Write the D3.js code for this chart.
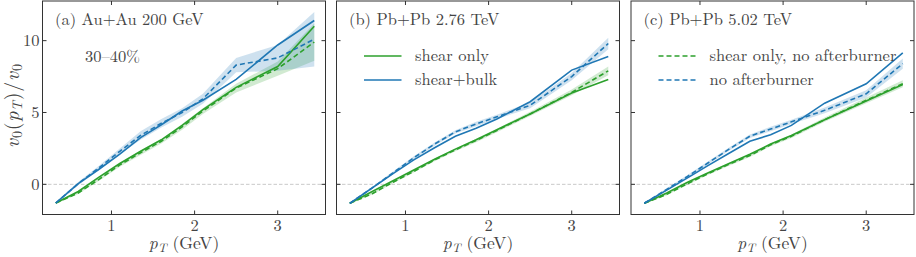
<!DOCTYPE html>
<html>
<head>
<meta charset="utf-8">
<script src="https://cdn.jsdelivr.net/npm/d3@7"></script>
<style>
  body { margin: 0; background: #fff; }
  svg { display: block; }
</style>
</head>
<body>
<div id="chart"></div>
<script>
'use strict';

// transverse momentum grid (GeV)
var pT = [0.33, 0.6, 0.85, 1.1, 1.35, 1.6, 1.85, 2.1, 2.5, 3.0, 3.44];

var xTicks = [1, 2, 3];
var yTicks = [0, 5, 10];

var panelTitles = ['(a) Au+Au 200 GeV', '(b) Pb+Pb 2.76 TeV', '(c) Pb+Pb 5.02 TeV'];
var centrality = '30\u201340%';

// (a) Au+Au 200 GeV
var auShear        = [-1.3, -0.5, 0.5, 1.45, 2.3, 3.1, 4.1, 5.2, 6.75, 8.2, 11.0];
var auShearNoAb    = [-1.3, -0.6, 0.35, 1.35, 2.2, 3.0, 4.0, 5.1, 6.7, 8.05, 9.9];
var auShearNoAbErr = [0.05, 0.08, 0.1, 0.12, 0.15, 0.15, 0.2, 0.2, 0.3, 0.5, 1.3];
var auBulk         = [-1.3, 0.05, 1.05, 2.1, 3.25, 4.15, 5.1, 5.85, 7.3, 9.7, 11.4];
var auBulkNoAb     = [-1.3, 0.05, 1.15, 2.3, 3.4, 4.25, 5.0, 5.95, 8.3, 8.8, 10.1];
var auBulkNoAbErr  = [0.08, 0.12, 0.15, 0.2, 0.3, 0.3, 0.3, 0.35, 0.5, 0.9, 1.9];

// (b) Pb+Pb 2.76 TeV
var pb276Shear        = [-1.32, -0.5, 0.25, 1.0, 1.75, 2.45, 3.1, 3.8, 4.9, 6.35, 7.3];
var pb276ShearNoAb    = [-1.32, -0.65, 0.15, 0.9, 1.7, 2.4, 3.05, 3.75, 4.9, 6.4, 7.9];
var pb276ShearNoAbErr = [0.05, 0.06, 0.08, 0.08, 0.1, 0.1, 0.12, 0.12, 0.15, 0.2, 0.3];
var pb276Bulk         = [-1.32, -0.25, 0.75, 1.7, 2.55, 3.35, 3.9, 4.55, 5.75, 7.95, 8.9];
var pb276BulkNoAb     = [-1.32, -0.25, 0.8, 1.85, 2.8, 3.65, 4.2, 4.7, 5.5, 7.5, 9.8];
var pb276BulkNoAbErr  = [0.05, 0.08, 0.1, 0.1, 0.12, 0.12, 0.15, 0.15, 0.2, 0.25, 0.4];

// (c) Pb+Pb 5.02 TeV
var pb502Shear        = [-1.32, -0.6, 0.15, 0.8, 1.45, 2.1, 2.8, 3.4, 4.5, 5.8, 6.95];
var pb502ShearNoAb    = [-1.32, -0.7, 0.05, 0.75, 1.4, 2.0, 2.75, 3.35, 4.5, 5.85, 7.0];
var pb502ShearNoAbErr = [0.05, 0.06, 0.08, 0.08, 0.1, 0.1, 0.1, 0.12, 0.15, 0.2, 0.25];
var pb502Bulk         = [-1.32, -0.4, 0.45, 1.32, 2.16, 3.0, 3.45, 4.1, 5.65, 7.0, 9.15];
var pb502BulkNoAb     = [-1.32, -0.35, 0.55, 1.5, 2.45, 3.35, 3.85, 4.35, 5.15, 6.3, 8.4];
var pb502BulkNoAbErr  = [0.05, 0.08, 0.1, 0.1, 0.12, 0.12, 0.15, 0.15, 0.2, 0.25, 0.35];

var green = '#2ca02c';
var blue  = '#1f77b4';

var panels = [
  { title: panelTitles[0], left: 42.5,
    shear: auShear, shearNoAb: auShearNoAb, shearErr: auShearNoAbErr,
    bulk: auBulk, bulkNoAb: auBulkNoAb, bulkErr: auBulkNoAbErr },
  { title: panelTitles[1], left: 336.5,
    shear: pb276Shear, shearNoAb: pb276ShearNoAb, shearErr: pb276ShearNoAbErr,
    bulk: pb276Bulk, bulkNoAb: pb276BulkNoAb, bulkErr: pb276BulkNoAbErr,
    legend: [{ label: 'shear only', color: green, dash: null },
             { label: 'shear+bulk', color: blue, dash: null }] },
  { title: panelTitles[2], left: 631,
    shear: pb502Shear, shearNoAb: pb502ShearNoAb, shearErr: pb502ShearNoAbErr,
    bulk: pb502Bulk, bulkNoAb: pb502BulkNoAb, bulkErr: pb502BulkNoAbErr,
    legend: [{ label: 'shear only, no afterburner', color: green, dash: '5,3' },
             { label: 'no afterburner', color: blue, dash: '5,3' }] }
];

var width = 916, height = 257;
var panelW = 283, plotTop = 1, plotBottom = 214.5;
var tickLen = 4;
var fontSize = 16.5, labelSize = 17.5, subSize = 12.5;
var textColor = '#444';

var svg = d3.select('#chart').append('svg')
    .attr('width', width)
    .attr('height', height)
    .attr('font-family', "'Latin Modern Roman', 'Liberation Serif', serif")
    .attr('fill', textColor);

var y = d3.scaleLinear().domain([-2.1, 12.76]).range([plotBottom, plotTop]);

panels.forEach(function (p, pi) {
  var x = d3.scaleLinear().domain([0.17, 3.575]).range([p.left, p.left + panelW]);
  var g = svg.append('g').attr('class', 'panel');

  var line = d3.line()
      .x(function (d, i) { return x(pT[i]); })
      .y(function (d) { return y(d); });

  var band = function (vals, err) {
    return d3.area()
        .x(function (d, i) { return x(pT[i]); })
        .y0(function (d, i) { return y(vals[i] - err[i]); })
        .y1(function (d, i) { return y(vals[i] + err[i]); })(vals);
  };

  // zero line
  g.append('line')
      .attr('x1', p.left).attr('x2', p.left + panelW)
      .attr('y1', y(0)).attr('y2', y(0))
      .attr('stroke', '#bbb').attr('stroke-width', 0.8)
      .attr('stroke-dasharray', '3.5,2');

  // uncertainty bands of the no-afterburner runs
  g.append('path').attr('d', band(p.shearNoAb, p.shearErr))
      .attr('fill', green).attr('fill-opacity', 0.22);
  g.append('path').attr('d', band(p.bulkNoAb, p.bulkErr))
      .attr('fill', blue).attr('fill-opacity', 0.22);

  var curves = [
    { v: p.shear, c: green, dash: null },
    { v: p.shearNoAb, c: green, dash: '5,3' },
    { v: p.bulk, c: blue, dash: null },
    { v: p.bulkNoAb, c: blue, dash: '5,3' }
  ];
  curves.forEach(function (c) {
    g.append('path')
        .attr('d', line(c.v))
        .attr('fill', 'none')
        .attr('stroke', c.c)
        .attr('stroke-width', 1.6)
        .attr('stroke-dasharray', c.dash);
  });

  // frame
  g.append('rect')
      .attr('x', p.left).attr('y', plotTop)
      .attr('width', panelW).attr('height', plotBottom - plotTop)
      .attr('fill', 'none').attr('stroke', '#333').attr('stroke-width', 1);

  // inward ticks on all sides
  xTicks.forEach(function (t) {
    g.append('line').attr('x1', x(t)).attr('x2', x(t))
        .attr('y1', plotBottom).attr('y2', plotBottom - tickLen)
        .attr('stroke', '#333');
    g.append('line').attr('x1', x(t)).attr('x2', x(t))
        .attr('y1', plotTop).attr('y2', plotTop + tickLen)
        .attr('stroke', '#333');
    g.append('text')
        .attr('x', x(t)).attr('y', plotBottom + 16)
        .attr('text-anchor', 'middle')
        .attr('font-size', fontSize)
        .text(t);
  });
  yTicks.forEach(function (t) {
    g.append('line').attr('x1', p.left).attr('x2', p.left + tickLen)
        .attr('y1', y(t)).attr('y2', y(t)).attr('stroke', '#333');
    g.append('line').attr('x1', p.left + panelW).attr('x2', p.left + panelW - tickLen)
        .attr('y1', y(t)).attr('y2', y(t)).attr('stroke', '#333');
    if (pi === 0) {
      g.append('text')
          .attr('x', p.left - 3).attr('y', y(t))
          .attr('dy', '0.34em')
          .attr('text-anchor', 'end')
          .attr('font-size', fontSize)
          .text(t);
    }
  });

  // x label
  var xl = g.append('text')
      .attr('x', p.left + panelW / 2).attr('y', 248.5)
      .attr('text-anchor', 'middle')
      .attr('font-size', labelSize);
  xl.append('tspan').attr('font-style', 'italic').text('p');
  xl.append('tspan').attr('font-style', 'italic').attr('font-size', subSize)
      .attr('dy', 3).text('T');
  xl.append('tspan').attr('dy', -3).text(' (GeV)');

  // panel title
  g.append('text')
      .attr('x', p.left + 12.5).attr('y', 25)
      .attr('font-size', fontSize)
      .text(p.title);

  if (pi === 0) {
    g.append('text')
        .attr('x', p.left + 42.5).attr('y', 62)
        .attr('font-size', fontSize)
        .text(centrality);
  }

  if (p.legend) {
    p.legend.forEach(function (l, li) {
      var ly = 56 + li * 24;
      g.append('line')
          .attr('x1', p.left + 27.5).attr('x2', p.left + 65)
          .attr('y1', ly).attr('y2', ly)
          .attr('stroke', l.color).attr('stroke-width', 1.6)
          .attr('stroke-dasharray', l.dash);
      g.append('text')
          .attr('x', p.left + 78.5).attr('y', ly)
          .attr('dy', '0.3em')
          .attr('font-size', fontSize)
          .text(l.label);
    });
  }
});

// y label: v0(pT)/v0
var yl = svg.append('text')
    .attr('transform', 'translate(19,106) rotate(-90)')
    .attr('text-anchor', 'middle')
    .attr('font-size', 20)
    .attr('textLength', 84)
    .attr('lengthAdjust', 'spacing');
yl.append('tspan').attr('font-style', 'italic').text('v');
yl.append('tspan').attr('font-size', 14).attr('dy', 3).text('0');
yl.append('tspan').attr('dy', -3).text('(');
yl.append('tspan').attr('font-style', 'italic').text('p');
yl.append('tspan').attr('font-style', 'italic').attr('font-size', 14).attr('dy', 3).text('T');
yl.append('tspan').attr('dy', -3).text(')/');
yl.append('tspan').attr('font-style', 'italic').text('v');
yl.append('tspan').attr('font-size', 14).attr('dy', 3).text('0');
</script>
</body>
</html>
